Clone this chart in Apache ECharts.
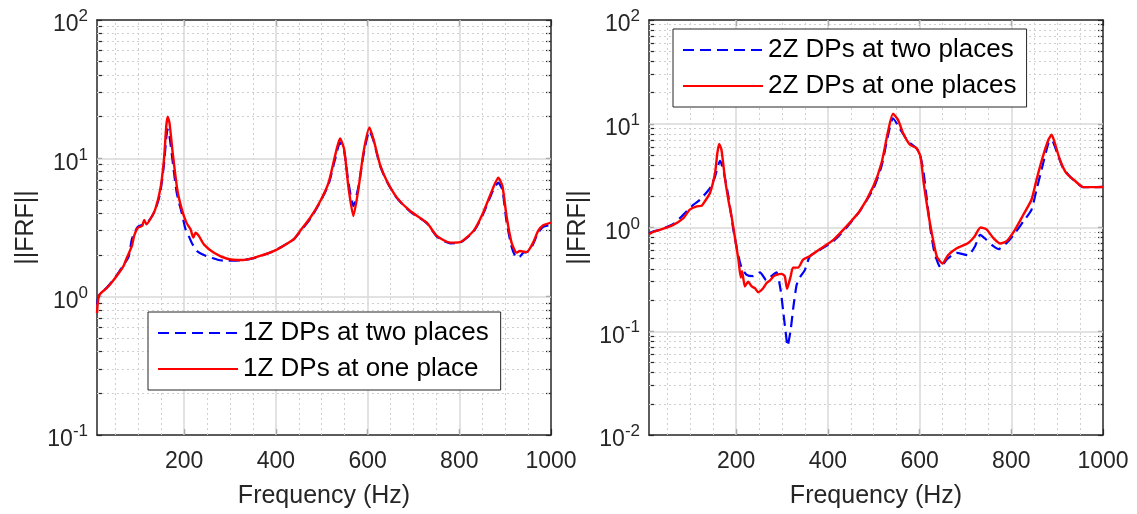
<!DOCTYPE html>
<html>
<head>
<meta charset="utf-8">
<script src="https://cdn.jsdelivr.net/npm/echarts@6/dist/echarts.min.js"></script>
<style>
html,body{margin:0;padding:0;background:#fff;}
#chart{width:1137px;height:514px;}
</style>
</head>
<body>
<div id="chart"></div>
<script>
// ---------- data ----------
const xTickValues = [200, 400, 600, 800, 1000];

const freqL_two = [10, 13, 18, 32, 50, 68, 79, 86, 92, 99, 108, 118, 128, 138, 148, 156, 161, 164, 168, 175, 184, 195, 203, 210, 218, 228, 236, 248, 258, 275, 290, 323, 352, 396, 439, 453, 475, 497, 515, 529, 540, 549, 558, 569, 580, 591, 604, 613, 627, 642, 664, 693, 729, 751, 780, 802, 831, 852, 874, 885, 894, 903, 914, 925, 932, 940, 947, 955, 961, 972, 983, 1000];
const valL_two  = [0.88, 1.0, 1.06, 1.17, 1.38, 1.7, 1.95, 2.6, 2.9, 3.2, 3.3, 3.4, 3.72, 4.3, 5.65, 9.0, 14, 16.2, 14.5, 9.5, 5.6, 4.0, 3.07, 2.75, 2.4, 2.14, 2.05, 1.97, 1.92, 1.84, 1.82, 1.83, 1.9, 2.14, 2.6, 2.95, 3.65, 4.85, 6.5, 9.8, 13.0, 11.2, 6.8, 4.52, 6.2, 10.5, 15.8, 13.4, 8.9, 6.8, 5.15, 4.12, 3.4, 2.72, 2.43, 2.46, 2.95, 3.95, 5.9, 6.67, 5.9, 3.5, 2.3, 1.91, 1.95, 2.08, 2.1, 2.2, 2.4, 2.9, 3.2, 3.3];

const freqL_one = [10, 12, 16, 32, 50, 68, 75, 86, 91, 99, 108, 113, 118, 128, 137, 148, 156, 161, 164, 168, 175, 185, 195, 205, 214, 220, 225, 232, 243, 265, 294, 323, 352, 396, 439, 453, 475, 497, 515, 529, 540, 549, 558, 569, 580, 591, 604, 613, 627, 642, 664, 693, 729, 751, 780, 802, 831, 852, 874, 885, 894, 903, 914, 925, 932, 947, 961, 972, 983, 1000];
const valL_one  = [0.76, 0.92, 1.04, 1.16, 1.37, 1.67, 1.91, 2.32, 2.75, 3.15, 3.24, 3.58, 3.34, 3.72, 4.28, 5.97, 9.8, 17, 20, 18.1, 11, 5.97, 4.28, 3.43, 3.07, 2.67, 2.9, 2.75, 2.39, 2.08, 1.88, 1.84, 1.91, 2.14, 2.6, 2.99, 3.72, 4.92, 6.67, 10.4, 13.9, 11.6, 6.3, 3.83, 5.97, 11, 16.7, 13.7, 9.05, 6.85, 5.2, 4.16, 3.43, 2.75, 2.46, 2.48, 2.99, 4.05, 6.14, 7.24, 6.3, 3.83, 2.46, 2.08, 2.14, 2.1, 2.46, 2.99, 3.28, 3.43];

const freqR_two = [10, 20, 34, 63, 85, 107, 121, 143, 154, 165, 172, 183, 194, 205, 212, 223, 237, 252, 266, 277, 288, 297, 303, 309, 312, 319, 325, 332, 339, 350, 361, 383, 412, 441, 470, 499, 517, 532, 542, 556, 575, 593, 600, 608, 616, 624, 633, 646, 659, 681, 706, 721, 732, 746, 761, 772, 790, 808, 826, 844, 855, 866, 881, 888, 899, 913, 931, 957, 978, 1000];
const valR_two  = [0.88, 0.92, 0.95, 1.08, 1.33, 1.66, 1.85, 2.4, 3.1, 4.4, 3.6, 2.0, 0.95, 0.53, 0.41, 0.35, 0.34, 0.37, 0.31, 0.34, 0.37, 0.25, 0.15, 0.09, 0.072, 0.104, 0.174, 0.28, 0.33, 0.39, 0.53, 0.61, 0.74, 1.0, 1.45, 2.35, 3.9, 8.0, 11.3, 9.1, 6.76, 5.82, 5.2, 3.6, 1.85, 0.95, 0.56, 0.41, 0.49, 0.57, 0.54, 0.66, 0.85, 0.76, 0.66, 0.62, 0.71, 0.88, 1.14, 1.48, 2.31, 3.6, 6.5, 7.0, 5.4, 3.73, 3.0, 2.45, 2.45, 2.46];

const freqR_one = [10, 20, 34, 63, 85, 99, 114, 125, 132, 143, 154, 159, 163, 168, 176, 183, 190, 197, 205, 210, 213, 219, 226, 234, 241, 248, 259, 266, 274, 282, 288, 299, 306, 311, 319, 324, 335, 346, 361, 383, 412, 441, 470, 499, 517, 532, 542, 553, 564, 579, 593, 602, 609, 619, 628, 638, 650, 662, 681, 706, 720, 733, 746, 761, 776, 790, 808, 826, 844, 855, 869, 881, 888, 895, 906, 920, 938, 957, 978, 1000];
const valR_one  = [0.86, 0.91, 0.95, 1.06, 1.23, 1.49, 1.6, 1.62, 1.79, 2.15, 3.35, 5.2, 6.37, 5.62, 2.89, 1.85, 1.28, 0.82, 0.49, 0.33, 0.38, 0.27, 0.30, 0.27, 0.26, 0.238, 0.26, 0.29, 0.31, 0.34, 0.35, 0.357, 0.34, 0.256, 0.34, 0.41, 0.41, 0.49, 0.53, 0.62, 0.76, 1.03, 1.45, 2.48, 4.18, 8.75, 12.5, 10.9, 8.13, 6.27, 5.82, 4.84, 2.68, 1.37, 0.82, 0.52, 0.45, 0.54, 0.63, 0.71, 0.82, 1.0, 0.96, 0.79, 0.70, 0.74, 0.95, 1.32, 1.85, 2.88, 4.84, 7.0, 7.83, 6.5, 4.5, 3.34, 2.84, 2.45, 2.45, 2.46];

const namesL = ['1Z DPs at two places', '1Z DPs at one place'];
const namesR = ['2Z DPs at two places', '2Z DPs at one places'];

// ---------- helpers ----------
const FONT = 'Liberation Sans, Arial, sans-serif';
const AX = '#262626';
const zip = (f, v) => f.map((x, i) => [x, v[i]]);

function logMinor(minExp, maxExp) {
  const out = [];
  for (let e = minExp; e < maxExp; e++) for (let k = 2; k <= 9; k++) out.push(+(k * Math.pow(10, e)).toPrecision(3));
  return out;
}
function decades(minExp, maxExp) {
  const out = [];
  for (let e = minExp; e <= maxExp; e++) out.push(+Math.pow(10, e).toPrecision(3));
  return out;
}
const minorXs = [];
for (let x = 50; x < 1000; x += 50) if (x % 200 !== 0) minorXs.push(x);

function gridSeries(gi, minExp) {
  const data = [];
  const dotted = { color: '#cfcfcf', width: 1, type: [2, 3] };
  const solid = { color: '#d9d9d9', width: 1.5, type: 'solid' };
  minorXs.forEach(x => data.push({ xAxis: x, lineStyle: dotted }));
  logMinor(minExp, 2).forEach(y => data.push({ yAxis: y, lineStyle: dotted }));
  [200, 400, 600, 800].forEach(x => data.push({ xAxis: x, lineStyle: solid }));
  decades(minExp + 1, 1).forEach(y => data.push({ yAxis: y, lineStyle: solid }));
  return {
    type: 'line', xAxisIndex: gi * 2, yAxisIndex: gi * 2, data: [], z: 1, silent: true,
    markLine: { silent: true, z: 1, symbol: ['none', 'none'], label: { show: false }, animation: false, data: data }
  };
}

function xAxes(gi) {
  const common = {
    gridIndex: gi, type: 'value', min: 10, max: 1000,
    axisLine: { show: true, onZero: false, lineStyle: { color: AX, width: 1.5 } },
    axisTick: { show: true, inside: true, length: 6, customValues: xTickValues, lineStyle: { color: AX, width: 1.2 } },
    splitLine: { show: false }
  };
  return [
    Object.assign({}, common, {
      position: 'bottom',
      name: 'Frequency (Hz)', nameLocation: 'middle', nameGap: 49,
      nameTextStyle: { fontSize: 25, color: AX, fontFamily: FONT },
      axisLabel: { customValues: xTickValues, fontSize: 23, color: AX, margin: 15, fontFamily: FONT,
        formatter: function (v) { return String(v); } }
    }),
    Object.assign({}, common, { position: 'top', axisLabel: { show: false } })
  ];
}

function yAxes(gi, minExp) {
  const tickVals = decades(minExp, 2).concat(logMinor(minExp, 2));
  const common = {
    gridIndex: gi, type: 'log', logBase: 10, min: Math.pow(10, minExp), max: 100,
    axisLine: { show: true, onZero: false, lineStyle: { color: AX, width: 1.5 } },
    axisTick: { show: true, inside: true, length: 5, customValues: tickVals, lineStyle: { color: AX, width: 1.2 } },
    splitLine: { show: false }, minorTick: { show: false }
  };
  return [
    Object.assign({}, common, {
      position: 'left',
      name: '||FRF||', nameLocation: 'middle', nameGap: 58,
      nameTextStyle: { fontSize: 25, color: AX, fontFamily: FONT },
      axisLabel: {
        margin: 9, padding: [10, 0, 0, 0],
        formatter: function (v) { return '{b|10}{s|' + Math.round(Math.log10(v)) + '}'; },
        rich: {
          b: { fontSize: 23, color: AX, fontFamily: FONT, lineHeight: 34 },
          s: { fontSize: 17, color: AX, fontFamily: FONT, lineHeight: 17, verticalAlign: 'top' }
        }
      }
    }),
    Object.assign({}, common, { position: 'right', axisLabel: { show: false } })
  ];
}

function curve(name, gi, f, v, color, dashed) {
  return {
    name: name, type: 'line', xAxisIndex: gi * 2, yAxisIndex: gi * 2,
    data: zip(f, v), symbol: 'none', smooth: 0.2, z: 3,
    lineStyle: { color: color, width: dashed ? 2.2 : 2.4, type: dashed ? [11, 6] : 'solid' },
    itemStyle: { color: color }
  };
}

function legendOpt(names, left, top, padRight) {
  return {
    left: left, top: top, orient: 'vertical', data: names,
    backgroundColor: '#ffffff', borderColor: AX, borderWidth: 1, borderRadius: 0,
    padding: [8, padRight, 8, 9], itemGap: 10, itemWidth: 80, itemHeight: 14,
    itemStyle: { opacity: 0 },
    textStyle: { fontSize: 26, color: '#000', fontFamily: FONT }
  };
}

const option = {
  animation: false,
  backgroundColor: '#ffffff',
  grid: [
    { left: 97, top: 20, width: 454, height: 415 },
    { left: 649, top: 20, width: 454, height: 415 }
  ],
  xAxis: xAxes(0).concat(xAxes(1)),
  yAxis: yAxes(0, -1).concat(yAxes(1, -2)),
  legend: [legendOpt(namesL, 148, 312, 12), legendOpt(namesR, 673, 29, 10)],
  series: [
    gridSeries(0, -1),
    gridSeries(1, -2),
    curve(namesL[0], 0, freqL_two, valL_two, '#0000ff', true),
    curve(namesL[1], 0, freqL_one, valL_one, '#ff0000', false),
    curve(namesR[0], 1, freqR_two, valR_two, '#0000ff', true),
    curve(namesR[1], 1, freqR_one, valR_one, '#ff0000', false)
  ]
};

const chart = echarts.init(document.getElementById('chart'), null, { renderer: 'canvas' });
chart.setOption(option);
</script>
</body>
</html>
